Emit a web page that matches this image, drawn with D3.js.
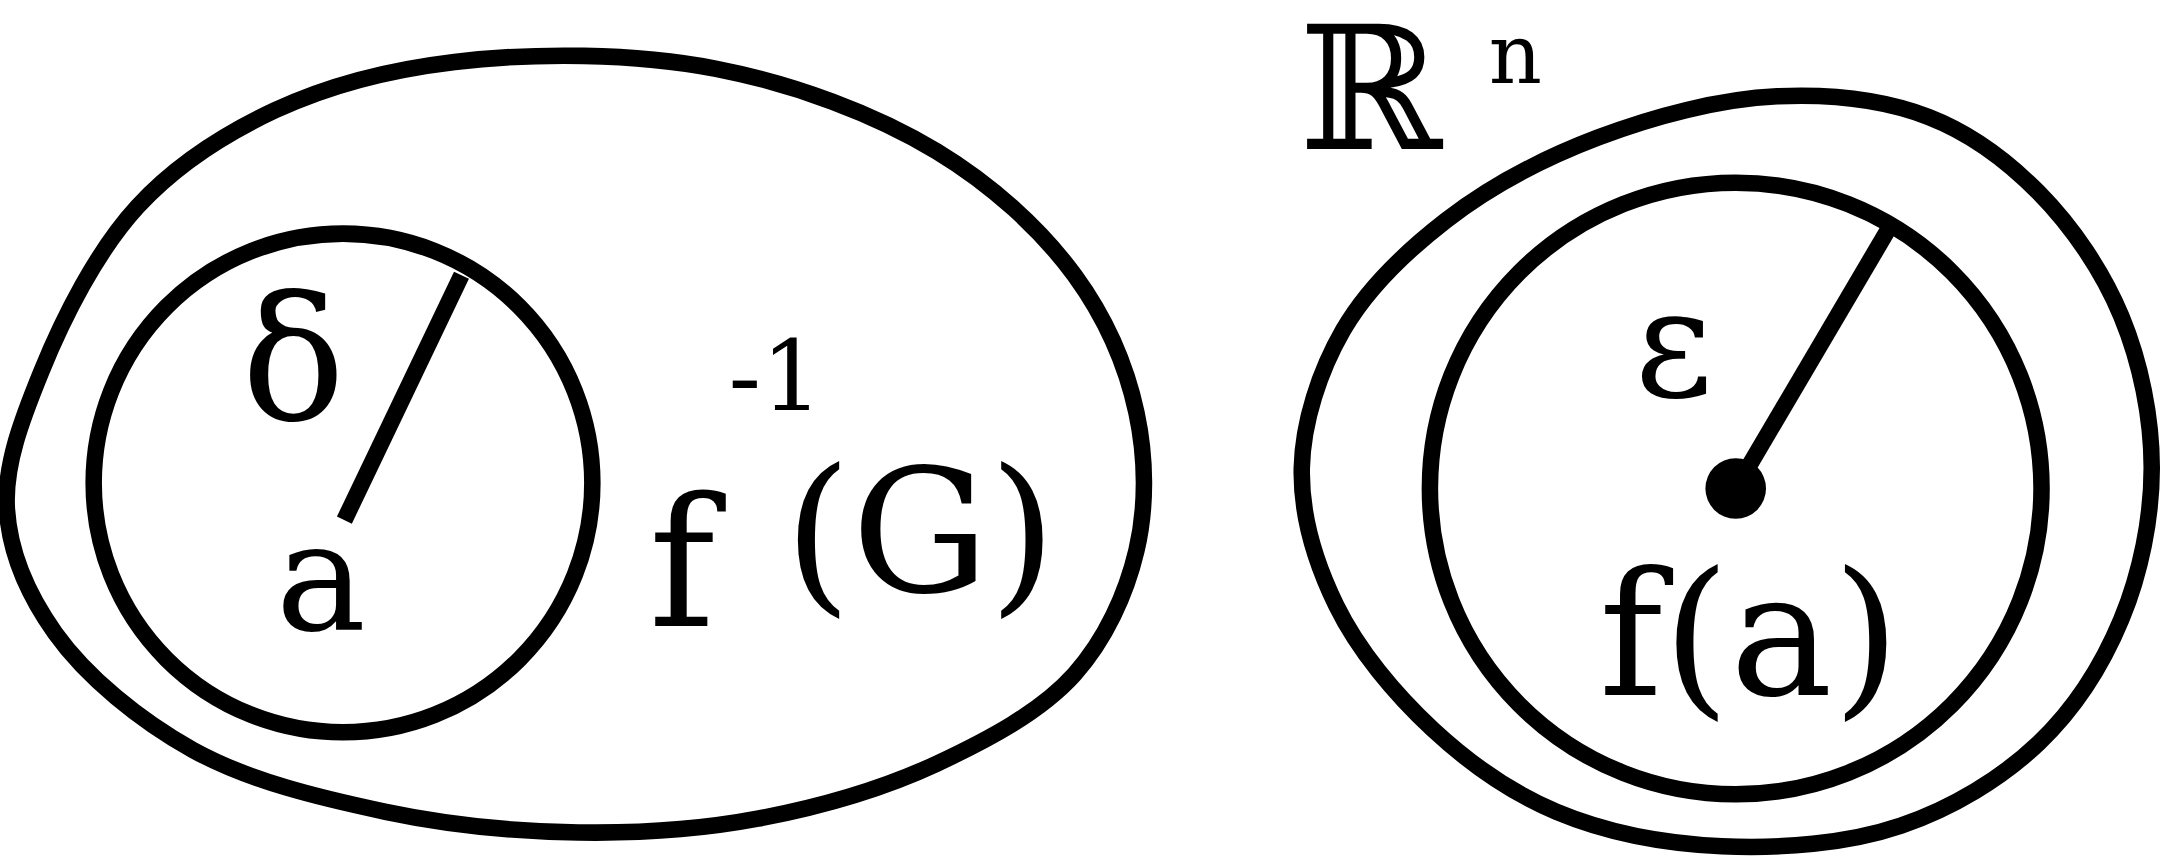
<!DOCTYPE html>
<html><head><meta charset="utf-8">
<script src="https://cdn.jsdelivr.net/npm/d3@7"></script>
<style>body{margin:0;background:#fff}</style>
</head><body>
<svg id="fig" width="2160" height="860"></svg>
<script>
// outline of f^-1(G) and of G (design units, 1568 x 625)
var leftBlob = [[100,150],[200,80],[330,45],[520,50],[680,110],[780,200],[825,300],[825,400],[780,490],[680,555],[550,595],[420,605],[280,590],[140,545],[40,460],[5,370],[30,270]];
var rightBlob = [[945,340],[975,240],[1050,160],[1160,100],[1290,70],[1400,85],[1480,140],[1540,230],[1562,340],[1540,450],[1480,540],[1380,600],[1250,615],[1130,590],[1040,530],[970,440]];
var circles = [{cx:249, cy:351, r:181}, {cx:1260, cy:355, r:222}];
var radii = [[[250,378],[335,200]], [[1260,355],[1370,168]]];
var centre = [1260,355];
var labels = [
  {t:"δ", x:213, y:305, s:125},
  {t:"a", x:233, y:458, s:110},
  {t:"f", x:495, y:455, s:130},
  {t:"-1", x:563, y:298, s:70},
  {t:"(G)", x:668, y:430, s:125},
  {t:"ε", x:1215, y:288, s:110},
  {t:"f(a)", x:1270, y:505, s:125},
  {t:"ℝ", x:995, y:108, s:125},
  {t:"n", x:1100, y:60, s:60}
];

var svg = d3.select("#fig"),
  W = 1568, H = 625,
  x = d3.scaleLinear().domain([0, W]).range([0, 2160]),
  y = d3.scaleLinear().domain([0, H]).range([0, 860]),
  k = 2160 / W;

var blobLine = d3.line()
  .x(function(d) {return x(d[0])})
  .y(function(d) {return y(d[1])})
  .curve(d3.curveCatmullRomClosed.alpha(0.5));

[leftBlob, rightBlob].forEach(function(b) {
  svg.append("path").attr("d", blobLine(b))
    .attr("fill", "none").attr("stroke", "black").attr("stroke-width", 12 * k);
});

circles.forEach(function(c) {
  svg.append("circle").attr("cx", x(c.cx)).attr("cy", y(c.cy)).attr("r", c.r * k)
    .attr("fill", "none").attr("stroke", "black").attr("stroke-width", 12 * k);
});

radii.forEach(function(r) {
  svg.append("line")
    .attr("x1", x(r[0][0])).attr("y1", y(r[0][1]))
    .attr("x2", x(r[1][0])).attr("y2", y(r[1][1]))
    .attr("stroke", "black").attr("stroke-width", 12 * k);
});

svg.append("circle").attr("cx", x(centre[0])).attr("cy", y(centre[1])).attr("r", 22 * k).attr("fill", "black");

labels.forEach(function(l) {
  svg.append("text").attr("x", x(l.x)).attr("y", y(l.y))
    .attr("text-anchor", "middle")
    .attr("font-family", "DejaVu Serif, Liberation Serif, serif")
    .attr("font-size", l.s * k)
    .text(l.t);
});
</script>
</body></html>
